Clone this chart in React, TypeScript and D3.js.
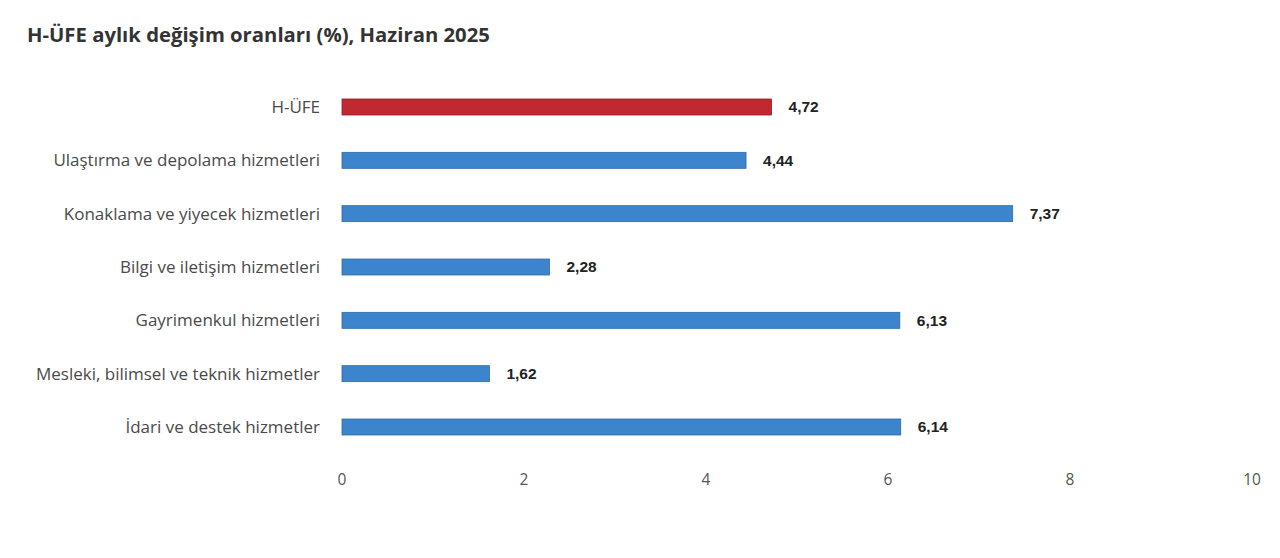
import React, { useEffect, useRef } from "react";
import * as d3 from "d3";

const categories = [
  "H-ÜFE",
  "Ulaştırma ve depolama hizmetleri",
  "Konaklama ve yiyecek hizmetleri",
  "Bilgi ve iletişim hizmetleri",
  "Gayrimenkul hizmetleri",
  "Mesleki, bilimsel ve teknik hizmetler",
  "İdari ve destek hizmetler",
];
const values = [4.72, 4.44, 7.37, 2.28, 6.13, 1.62, 6.14];
const xTicks = [0, 2, 4, 6, 8, 10];
const title = "H-ÜFE aylık değişim oranları (%), Haziran 2025";

const width = 1280;
const height = 558;

export default function App() {
  const ref = useRef<SVGSVGElement>(null);

  useEffect(() => {
    document.body.style.margin = "0";
    const svg = d3.select(ref.current);
    svg.selectAll("*").remove();

    const x = d3.scaleLinear().domain([0, 10]).range([342, 1252]);
    const y = d3
      .scaleBand<string>()
      .domain(categories)
      .range([80.33, 453.67])
      .paddingInner(0.7)
      .paddingOuter(0.35);

    const data = categories.map((c, i) => ({ name: c, value: values[i] }));

    // title
    svg
      .append("text")
      .attr("x", 27)
      .attr("y", 42)
      .attr("font-family", "'Open Sans', sans-serif")
      .attr("font-weight", 700)
      .attr("font-size", 20.3)
      .attr("fill", "#333")
      .text(title);

    // bars
    svg
      .append("g")
      .selectAll("rect")
      .data(data)
      .join("rect")
      .attr("x", x(0))
      .attr("y", (d) => y(d.name)!)
      .attr("width", (d) => x(d.value) - x(0))
      .attr("height", y.bandwidth())
      .attr("fill", (d, i) => (i === 0 ? "#c0292f" : "#3c84cc"))
      .attr("stroke", (d, i) => (i === 0 ? "#8e1e24" : "#2e6aa8"))
      .attr("stroke-width", 0.8);

    // category labels
    svg
      .append("g")
      .selectAll("text")
      .data(data)
      .join("text")
      .attr("x", 320)
      .attr("y", (d) => y(d.name)! + y.bandwidth() / 2)
      .attr("dy", "0.35em")
      .attr("text-anchor", "end")
      .attr("font-family", "'Open Sans', sans-serif")
      .attr("font-size", 17)
      .attr("fill", "#4a4a4a")
      .text((d) => d.name);

    // value labels
    svg
      .append("g")
      .selectAll("text")
      .data(data)
      .join("text")
      .attr("x", (d) => x(d.value) + 17)
      .attr("y", (d) => y(d.name)! + y.bandwidth() / 2)
      .attr("dy", "0.35em")
      .attr("font-family", "'Liberation Sans', Arial, sans-serif")
      .attr("font-weight", 700)
      .attr("font-size", 15.5)
      .attr("fill", "#222")
      .text((d) => d3.format(".2f")(d.value).replace(".", ","));

    // x axis ticks
    svg
      .append("g")
      .selectAll("text")
      .data(xTicks)
      .join("text")
      .attr("x", (d) => x(d))
      .attr("y", 480)
      .attr("dy", "0.35em")
      .attr("text-anchor", "middle")
      .attr("font-family", "'Open Sans', sans-serif")
      .attr("font-size", 15.5)
      .attr("fill", "#555")
      .text((d) => d);
  }, []);

  return <svg ref={ref} width={width} height={height} style={{ display: "block", background: "#fff" }} />;
}
